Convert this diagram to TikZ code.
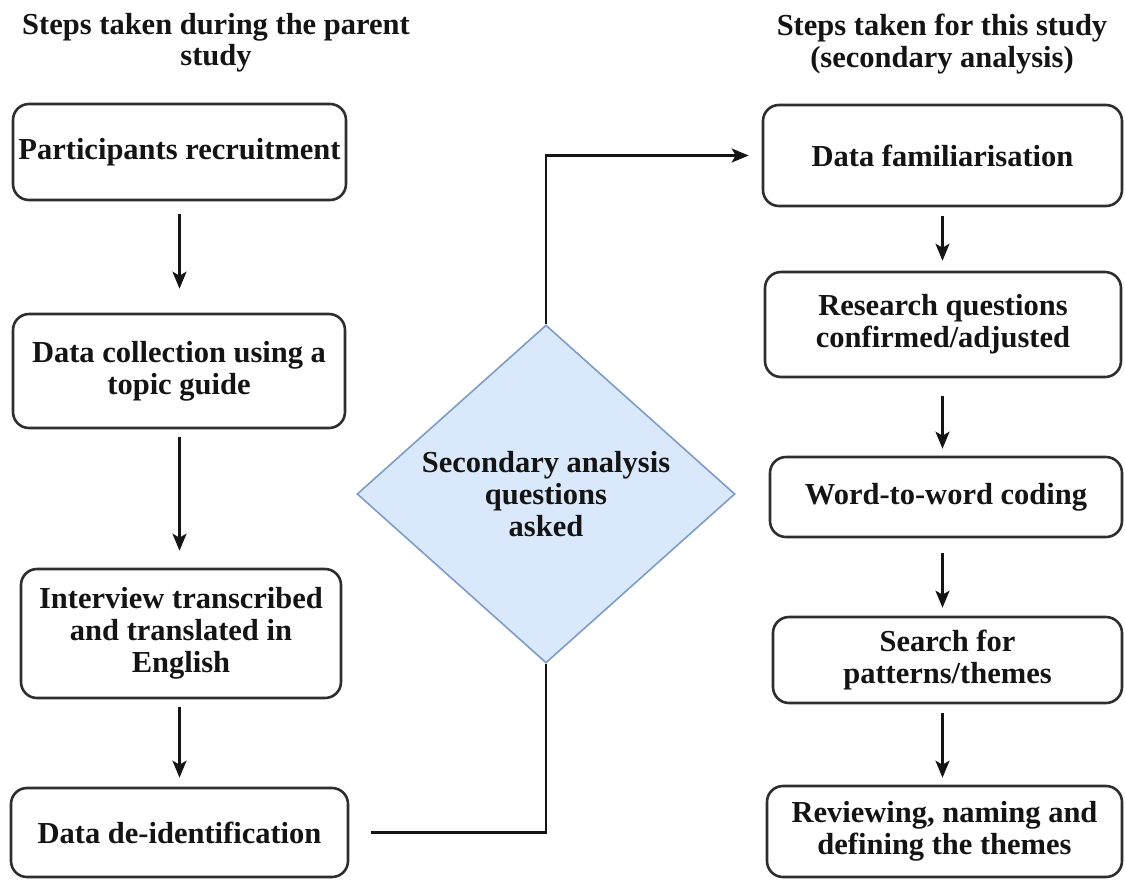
\documentclass[tikz,border=0pt]{standalone}
\usepackage{fontspec}
\setmainfont{Liberation Serif}
\usetikzlibrary{shapes.geometric,arrows.meta}
\definecolor{diaFill}{HTML}{DAE8FC}
\definecolor{diaBorder}{HTML}{7D9CC8}
\definecolor{ink}{HTML}{141414}
\definecolor{edge}{HTML}{2E2E2E}
\begin{document}
\begin{tikzpicture}[x=1pt,y=-1pt,
  txt/.style={font=\fontsize{30.5}{32}\selectfont\bfseries, text=ink, align=center, inner sep=0pt},
  stepbox/.style={txt, draw=edge, line width=2.6pt, rounded corners=16pt},
  arr/.style={draw=ink, line width=2.4pt, -{Stealth[length=17pt,width=14pt,inset=4pt]}},
  link/.style={draw=ink, line width=2.4pt}
]
\useasboundingbox (0,0) rectangle (1125,879);
\fill[white] (0,0) rectangle (1125,879);

% headers
\node[txt, font=\fontsize{30.5}{31}\selectfont\bfseries] (h1) at (216,43) {Steps taken during the parent\\study};
\node[txt, font=\fontsize{30.5}{32}\selectfont\bfseries] (h2) at (942,44) {Steps taken for this study\\(secondary analysis)};

% left column
\node[stepbox, minimum width=333pt, minimum height=96pt] (b1) at (179.5,152) {Participants recruitment};
\node[stepbox, minimum width=332pt, minimum height=114pt] (b2) at (179,371) {Data collection using a\\topic guide};
\node[stepbox, minimum width=320pt, minimum height=129pt] (b3) at (181,633.5) {Interview transcribed\\and translated in\\English};
\node[stepbox, minimum width=337pt, minimum height=89pt] (b4) at (179.5,832.5) {Data de-identification};

% right column
\node[stepbox, minimum width=359pt, minimum height=101pt] (r1) at (942.5,155.5) {Data familiarisation};
\node[stepbox, minimum width=356pt, minimum height=105pt] (r2) at (943,324.5) {Research questions\\confirmed/adjusted};
\node[stepbox, minimum width=352pt, minimum height=80pt] (r3) at (946,497) {Word-to-word coding};
\node[stepbox, minimum width=349pt, minimum height=86pt] (r4) at (947.5,660) {Search for\\patterns/themes};
\node[stepbox, minimum width=355pt, minimum height=91pt] (r5) at (944.5,831.5) {Reviewing, naming and\\defining the themes};

% diamond
\node[txt, diamond, draw=diaBorder, fill=diaFill, line width=1.6pt, minimum width=378pt, minimum height=338pt] (dia) at (546,494) {Secondary analysis\\questions\\asked};

% left arrows
\draw[arr, shorten <=13pt, shorten >=24pt] (b1.south) -- (b1.south |- b2.north);
\draw[arr, shorten <=8pt, shorten >=17pt] (b1.south |- b2.south) -- (b1.south |- b3.north);
\draw[arr, shorten <=8pt, shorten >=9pt] (b1.south |- b3.south) -- (b1.south |- b4.north);

% right arrows
\draw[arr, shorten <=9pt, shorten >=10pt] (r1.south) -- (r1.south |- r2.north);
\draw[arr, shorten <=18pt, shorten >=7pt] (r1.south |- r2.south) -- (r1.south |- r3.north);
\draw[arr, shorten <=15pt, shorten >=8pt] (r1.south |- r3.south) -- (r1.south |- r4.north);
\draw[arr, shorten <=9pt, shorten >=7pt] (r1.south |- r4.south) -- (r1.south |- r5.north);

% connectors through the diamond
\draw[link, shorten <=22pt] (b4.east) -| (dia.south);
\draw[arr, shorten >=13pt] (dia.north) |- (r1.west);
\end{tikzpicture}
\end{document}
